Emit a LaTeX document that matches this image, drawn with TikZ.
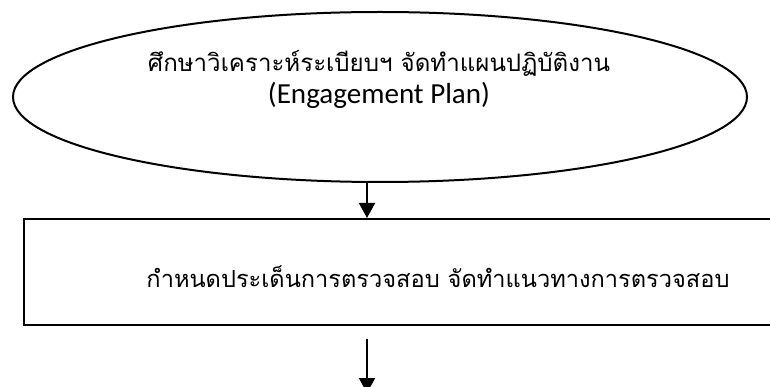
\documentclass[tikz,border=0pt]{standalone}
\usepackage{fontspec}
\setmainfont{Carlito}
\newfontfamily\thaifont[Script=Thai]{Loma}
\usetikzlibrary{positioning,arrows.meta,shapes.geometric}
\definecolor{colortext}{RGB}{ 0, 0, 0}
\definecolor{colorline}{RGB}{ 0, 0, 0}

\begin{document}
\begin{tikzpicture}[
    x=1pt, y=-1pt,
    planshape/.style={draw=colorline,line width=2pt,ellipse,inner sep=0pt,
        minimum width=734pt,minimum height=170pt},
    taskbox/.style={draw=colorline,line width=2pt,rectangle,inner sep=0pt,
        minimum width=828pt,minimum height=106pt},
    thai/.style={text=colortext,font={\thaifont},anchor=base,inner sep=0pt},
    latin/.style={text=colortext,anchor=base,inner sep=0pt},
    flow/.style={draw=colorline,line width=2pt,-{Triangle[length=15pt,width=16pt]}}
]
    \useasboundingbox (0,0) rectangle (770,387);

    % Engagement plan
    \node[planshape] (plan) at (380,97) {};
    \node[thai] (plantitle) at (379,72) {\resizebox{462pt}{!}{ศึกษาวิเคราะห์ระเบียบฯ จัดทำแผนปฏิบัติงาน}};
    \node[latin] (planname) at (379,104) {\resizebox{222pt}{!}{(Engagement Plan)}};

    % Audit issues
    \node[taskbox] (issues) at (438,272) {};
    \node[thai] (issuestext) at (438,287) {\resizebox{583pt}{!}{กำหนดประเด็นการตรวจสอบ จัดทำแนวทางการตรวจสอบ}};

    % Arrows
    \coordinate (axis) at (367,0);
    \coordinate (next) at (367,393);
    \draw[flow] (axis |- plan.south) -- (axis |- issues.north);
    \draw[flow,shorten <=13pt] (axis |- issues.south) -- (next);

\end{tikzpicture}
\end{document}
